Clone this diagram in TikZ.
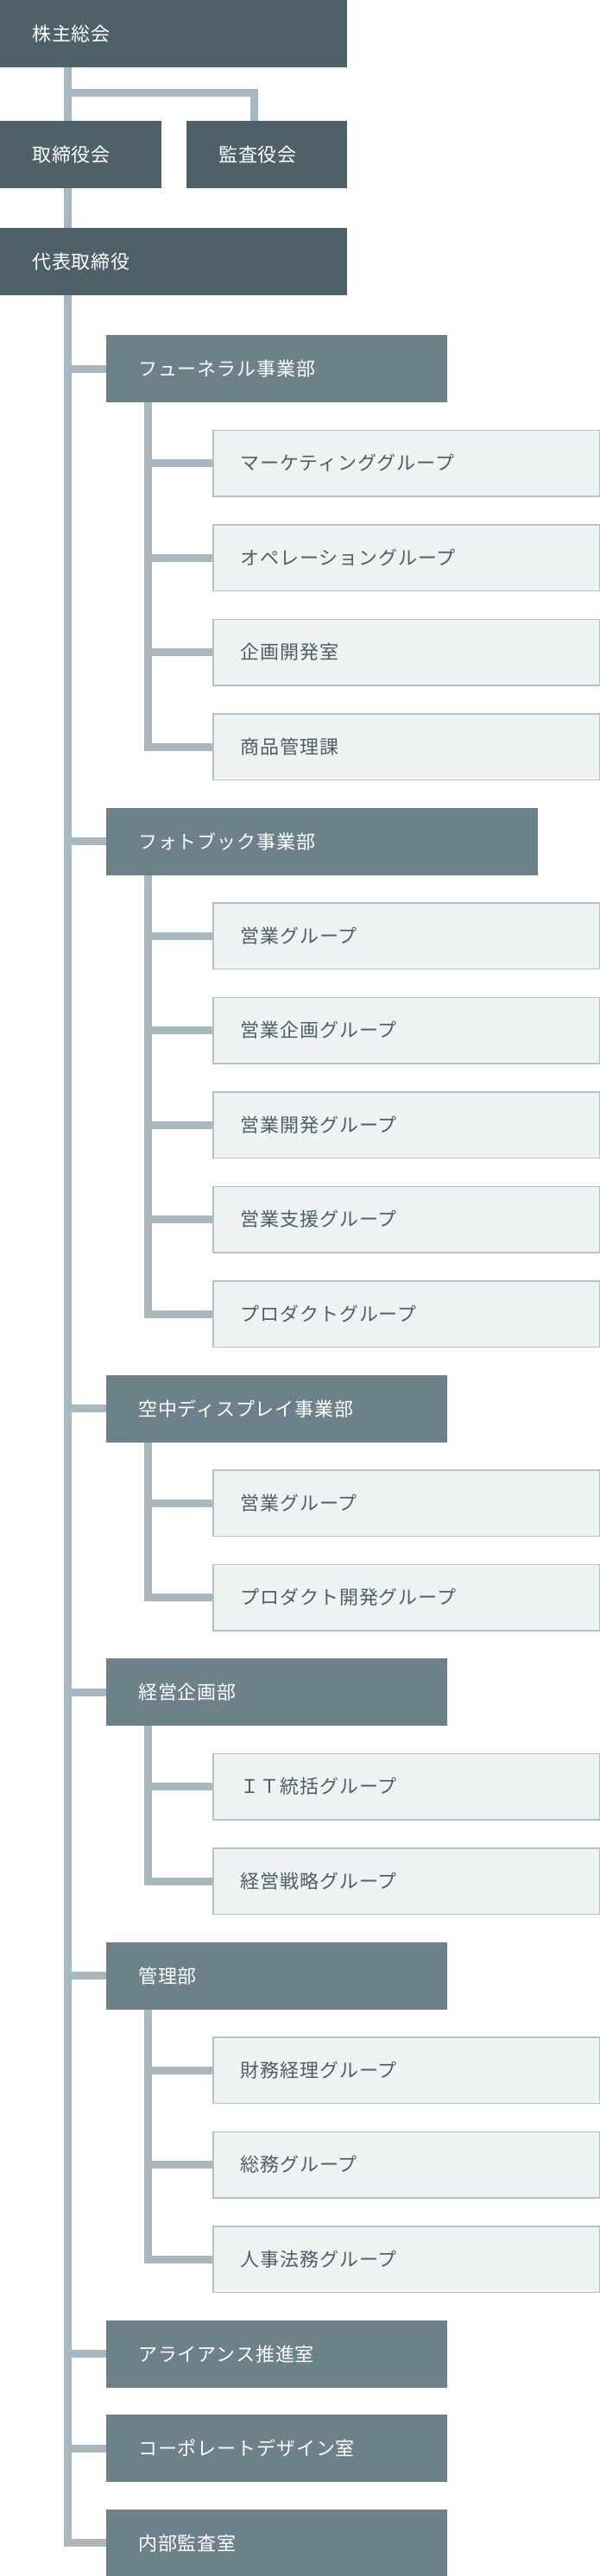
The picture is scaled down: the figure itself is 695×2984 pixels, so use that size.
\documentclass[tikz,border=0pt]{standalone}
\usepackage{fontspec}
\newfontfamily\jpfont[LetterSpace=4]{Noto Sans CJK JP}
\usetikzlibrary{positioning}
\definecolor{topgray}{HTML}{4E6068}
\definecolor{deptgray}{HTML}{6C8189}
\definecolor{subfill}{HTML}{EEF2F3}
\definecolor{subedge}{HTML}{B4C3C8}
\definecolor{linkgray}{HTML}{A8B8BE}
\definecolor{subtext}{HTML}{4E5F66}

\begin{document}
\begin{tikzpicture}[x=1pt,y=-1pt,
		box/.style={anchor=north west,minimum height=78pt,inner xsep=37pt,inner ysep=0pt,align=left,font=\jpfont\fontsize{22}{26}\selectfont},
		topbox/.style={box,fill=topgray,text=white},
		deptbox/.style={box,fill=deptgray,text=white},
		subbox/.style={box,fill=subfill,draw=subedge,line width=1.5pt,text=subtext,inner xsep=32pt,minimum height=76.5pt,text width=383.5pt},
		link/.style={draw=linkgray,line width=9pt,line join=miter}]
		\useasboundingbox (0,0) rectangle (695,2984);
		
		\node[topbox,text width=328pt] (gm) at (0,0) {株主総会};
		\node[topbox,text width=113pt] (bd) at (0,140) {取締役会};
		\node[topbox,text width=112pt] (au) at (216,140) {監査役会};
		\node[topbox,text width=328pt] (ceo) at (0,264) {代表取締役};
		
		\foreach \k/\n/\t/\w in {0/d1/フューネラル事業部/321, 5/d2/フォトブック事業部/426, 11/d3/空中ディスプレイ事業部/321, 14/d4/経営企画部/321, 17/d5/管理部/321, 21/d6/アライアンス推進室/321, 22/d7/コーポレートデザイン室/321, 23/d8/内部監査室/321}
			\node[deptbox,text width=\w pt] (\n) at (123,{388+109.5*\k}) {\t};
		\foreach \k/\n/\t in {1/s1/マーケティンググループ, 2/s2/オペレーショングループ, 3/s3/企画開発室, 4/s4/商品管理課, 6/s5/営業グループ, 7/s6/営業企画グループ, 8/s7/営業開発グループ, 9/s8/営業支援グループ, 10/s9/プロダクトグループ, 12/s10/営業グループ, 13/s11/プロダクト開発グループ, 15/s12/ＩＴ統括グループ, 16/s13/経営戦略グループ, 18/s14/財務経理グループ, 19/s15/総務グループ, 20/s16/人事法務グループ}
			\node[subbox] (\n) at (246,{388+109.5*\k}) {\t};
		
		\coordinate (trunk) at (78.5,0);
		\coordinate (fork) at (78.5,107.5);
		\coordinate (auline) at (294.5,0);
		\coordinate (sub) at (171,0);
		
		\draw[link] (trunk |- gm.south) -- (trunk |- bd.north);
		\draw[link] (fork) -| (auline |- au.north);
		\draw[link] (trunk |- bd.south) -- (trunk |- ceo.north);
		\draw[link] (trunk |- ceo.south) |- (d8.west);
		\foreach \d in {d1,d2,d3,d4,d5,d6,d7}
			\draw[link] (trunk |- \d.west) -- (\d.west);
		\foreach \d/\s in {d1/s4, d2/s9, d3/s11, d4/s13, d5/s16}
			\draw[link] (sub |- \d.south) |- (\s.west);
		\foreach \s in {s1,s2,s3,s5,s6,s7,s8,s10,s12,s14,s15}
			\draw[link] (sub |- \s.west) -- (\s.west);
	\end{tikzpicture}
\end{document}
